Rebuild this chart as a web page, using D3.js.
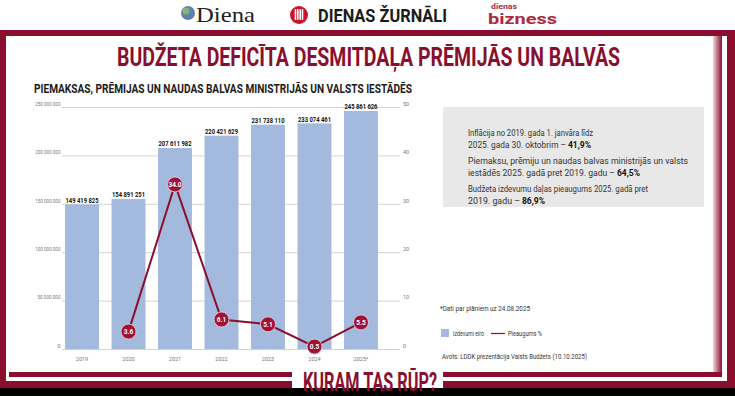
<!DOCTYPE html>
<html lang="lv">
<head>
<meta charset="UTF-8">
<title>Budžeta deficīta desmitdaļa prēmijās un balvās</title>
<script src="https://cdn.jsdelivr.net/npm/d3@7"></script>
<style>
  body { margin: 0; background: #fff; }
  svg { display: block; }
  text { font-family: Roboto, 'Liberation Sans', sans-serif; }
</style>
</head>
<body>
<div id="container"></div>
<script>
    // chart data
    const years = ["2019", "2020", "2021", "2022", "2023", "2024", "2025*"];
    const spending = [149419825, 154891251, 207611982, 220421629, 231738110, 233074461, 245861626];
    const growth = [null, 3.6, 34.0, 6.1, 5.1, 0.5, 5.5];
    const leftTicks = [0, 50000000, 100000000, 150000000, 200000000, 250000000];
    const rightTicks = [0, 10, 20, 30, 40, 50];

    const W = 735, H = 396;
    const red = "#8a0f2e", barColor = "#a3b9de";

    // squeeze a text to a given width (the original uses a condensed face)
    function fit(sel, w) {
        return sel.attr("textLength", w).attr("lengthAdjust", "spacingAndGlyphs");
    }

    const svg = d3.select("#container").append("svg")
        .attr("width", W).attr("height", H);

    const defs = svg.append("defs");
    const grad = defs.append("linearGradient").attr("id", "shade");
    grad.append("stop").attr("offset", "0%").attr("stop-color", "#efd4da");
    grad.append("stop").attr("offset", "100%").attr("stop-color", red);

    // logos strip
    svg.append("circle").attr("cx", 188).attr("cy", 13).attr("r", 7).attr("fill", "#5b84a8");
    svg.append("circle").attr("cx", 186).attr("cy", 11).attr("r", 3.5).attr("fill", "#8fb07a");
    fit(svg.append("text").attr("x", 196).attr("y", 22).attr("font-size", 22)
        .style("font-family", "'Liberation Serif', serif").attr("fill", "#222").text("Diena"), 59);
    svg.append("circle").attr("cx", 299).attr("cy", 15).attr("r", 9).attr("fill", "#c8142c");
    [-3.5, -1.2, 1.2, 3.5].forEach(dx => {
        svg.append("rect").attr("x", 299 + dx - 0.8).attr("y", 9).attr("width", 1.6).attr("height", 11)
            .attr("rx", 0.8).attr("fill", "#fff");
    });
    fit(svg.append("text").attr("x", 318).attr("y", 22).attr("font-size", 19).attr("font-weight", "bold")
        .attr("fill", "#1a1a1a").text("DIENAS ŽURNĀLI"), 129);
    fit(svg.append("text").attr("x", 491).attr("y", 9).attr("font-size", 6.5).attr("font-weight", "bold")
        .attr("fill", "#b0283c").text("dienas"), 26);
    fit(svg.append("text").attr("x", 488).attr("y", 24).attr("font-size", 15).attr("font-weight", "bold")
        .attr("fill", "#b0283c").text("bizness"), 69);

    // frame
    svg.append("rect").attr("x", 0).attr("y", 30).attr("width", W).attr("height", 358).attr("fill", red);
    svg.append("rect").attr("x", 6).attr("y", 36).attr("width", 721).attr("height", 345).attr("fill", "#fff");
    svg.append("rect").attr("x", 713).attr("y", 36).attr("width", 9).attr("height", 341).attr("fill", "url(#shade)");
    svg.append("rect").attr("x", 9).attr("y", 372).attr("width", 713).attr("height", 5).attr("fill", red);
    svg.append("rect").attr("x", 0).attr("y", 388).attr("width", W).attr("height", H - 388).attr("fill", "#000");
    svg.append("rect").attr("x", 292).attr("y", 368).attr("width", 151).attr("height", 20).attr("fill", "#fff");
    fit(svg.append("text").attr("x", 303).attr("y", 391).attr("font-size", 26).attr("font-weight", "bold")
        .attr("fill", red).text("KURAM TAS RŪP?"), 134);

    // titles
    fit(svg.append("text").attr("x", 117).attr("y", 66).attr("font-size", 25).attr("font-weight", "bold")
        .attr("fill", red).text("BUDŽETA DEFICĪTA DESMITDAĻA PRĒMIJĀS UN BALVĀS"), 503);
    fit(svg.append("text").attr("x", 34).attr("y", 93).attr("font-size", 13).attr("font-weight", "bold")
        .attr("fill", "#1a1a1a")
        .text("PIEMAKSAS, PRĒMIJAS UN NAUDAS BALVAS MINISTRIJĀS UN VALSTS IESTĀDĒS"), 378);

    // scales
    const xScale = d3.scaleBand().domain(years).range([52.5, 390.5]).paddingInner(0.27).paddingOuter(0.27);
    const yLeft = d3.scaleLinear().domain([0, 250000000]).range([349, 107]);
    const yRight = d3.scaleLinear().domain([0, 50]).range([349, 107]);
    const lv = d3.formatLocale({decimal: ",", thousands: " ", grouping: [3], currency: ["", ""]});
    const fmtBig = lv.format(",");
    const fmtPct = d3.format(".1f");

    // axes
    const leftAxis = svg.append("g")
        .attr("transform", "translate(62,0)")
        .call(d3.axisLeft(yLeft).tickValues(leftTicks).tickSize(-338).tickPadding(1.5).tickFormat(fmtBig));
    const rightAxis = svg.append("g")
        .attr("transform", "translate(400,0)")
        .call(d3.axisRight(yRight).tickValues(rightTicks).tickSize(0).tickPadding(3));
    [leftAxis, rightAxis].forEach(g => {
        g.select(".domain").remove();
        g.selectAll("line").attr("stroke", "#d2d2d2");
        g.selectAll("text").attr("y", -3.5).attr("font-size", 5.5).attr("fill", "#777");
    });
    leftAxis.selectAll("text").each(function () {
        const n = this.textContent.length;
        if (n > 1) fit(d3.select(this), n * 2.3);
    });
    const xAxis = svg.append("g")
        .attr("transform", "translate(0,352)")
        .call(d3.axisBottom(xScale).tickSize(0).tickPadding(5));
    xAxis.select(".domain").remove();
    xAxis.selectAll("text").attr("font-size", 5.5).attr("fill", "#777");

    // bars
    const rows = years.map((y, i) => ({year: y, value: spending[i], pct: growth[i]}));
    svg.append("g").selectAll("rect").data(rows).enter().append("rect")
        .attr("x", d => xScale(d.year))
        .attr("y", d => yLeft(d.value))
        .attr("width", xScale.bandwidth())
        .attr("height", d => yLeft(0) - yLeft(d.value))
        .attr("fill", barColor);
    fit(svg.append("g").selectAll("text").data(rows).enter().append("text")
        .attr("x", d => xScale(d.year) + xScale.bandwidth() / 2)
        .attr("y", d => yLeft(d.value) - 1.8)
        .attr("text-anchor", "middle")
        .attr("font-size", 7.5).attr("font-weight", "bold").attr("fill", "#111")
        .text(d => fmtBig(d.value)), 33);

    // growth line
    const pts = rows.filter(d => d.pct != null);
    const lineGen = d3.line()
        .x(d => xScale(d.year) + xScale.bandwidth() / 2)
        .y(d => yRight(d.pct));
    svg.append("path").datum(pts).attr("d", lineGen)
        .attr("fill", "none").attr("stroke", red).attr("stroke-width", 2);
    const dots = svg.append("g").selectAll("g").data(pts).enter().append("g")
        .attr("transform", d => `translate(${xScale(d.year) + xScale.bandwidth() / 2},${yRight(d.pct)})`);
    dots.append("circle").attr("r", 7.5).attr("fill", "#9e1238").attr("stroke", "#f0d6dc").attr("stroke-width", 0.8);
    dots.append("text").attr("text-anchor", "middle").attr("dy", "0.35em")
        .attr("font-size", 6.5).attr("font-weight", "bold").attr("fill", "#fff")
        .text(d => fmtPct(d.pct));

    // info box
    svg.append("rect").attr("x", 443).attr("y", 107).attr("width", 261).attr("height", 100).attr("fill", "#e8e8e8");
    const info = [
        [["Inflācija no 2019. gada 1. janvāra līdz", false]],
        [["2025. gada 30. oktobrim – ", false], ["41,9%", true]],
        [["Piemaksu, prēmiju un naudas balvas ministrijās un valsts", false]],
        [["iestādēs 2025. gadā pret 2019. gadu – ", false], ["64,5%", true]],
        [["Budžeta izdevumu daļas pieaugums 2025. gadā pret", false]],
        [["2019. gadu – ", false], ["86,9%", true]]
    ];
    const infoY = [136, 148, 164, 176, 192, 204];
    const infoW = [[125], [98, 23], [220], [147, 23], [180], [52, 23]];
    info.forEach((parts, i) => {
        let x = 468;
        parts.forEach((p, j) => {
            fit(svg.append("text").attr("x", x).attr("y", infoY[i]).attr("font-size", 9.5)
                .attr("font-weight", p[1] ? "bold" : "normal")
                .attr("fill", p[1] ? "#111" : "#333").text(p[0]), infoW[i][j]);
            x += infoW[i][j] + 2;
        });
    });

    // notes and legend
    fit(svg.append("text").attr("x", 440).attr("y", 311).attr("font-size", 6.5).attr("fill", "#333")
        .text("*Dati par plāniem uz 24.08.2025"), 90);
    svg.append("rect").attr("x", 441).attr("y", 329).attr("width", 8).attr("height", 8).attr("fill", barColor);
    fit(svg.append("text").attr("x", 453).attr("y", 336).attr("font-size", 6.5).attr("fill", "#333")
        .text("Izdevumi eiro"), 31);
    svg.append("line").attr("x1", 491).attr("x2", 505).attr("y1", 333.5).attr("y2", 333.5)
        .attr("stroke", red).attr("stroke-width", 1.2);
    fit(svg.append("text").attr("x", 508).attr("y", 336).attr("font-size", 6.5).attr("fill", "#333")
        .text("Pieaugums %"), 34);
    fit(svg.append("text").attr("x", 442).attr("y", 359).attr("font-size", 6.5).attr("fill", "#333")
        .text("Avots: LDDK prezentācija Valsts Budžets (10.10.2025)"), 145);
</script>
</body>
</html>
